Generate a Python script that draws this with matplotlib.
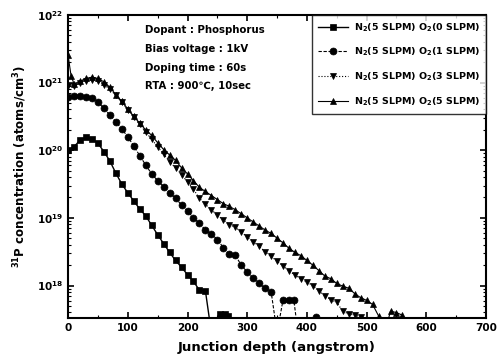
import numpy as np
import matplotlib
matplotlib.use("Agg")
import matplotlib.pyplot as plt
from matplotlib.ticker import LogLocator, MultipleLocator, NullFormatter

plt.rcParams['font.family'] = ['DejaVu Sans']
plt.rcParams['font.weight'] = 'bold'

# ---- data (log10 of concentration) ----
depth_o0 = [0, 10, 20, 30, 40, 50, 60, 70, 80, 90, 100, 110, 120, 130, 140, 150, 160,
            170, 180, 190, 200, 210, 220, 230, 240, 255, 262, 268, 280]
log_o0 = [20.00, 20.05, 20.15, 20.19, 20.17, 20.10, 19.98, 19.84, 19.66, 19.50, 19.37,
          19.25, 19.13, 19.03, 18.89, 18.75, 18.62, 18.49, 18.37, 18.27, 18.16, 18.06,
          17.93, 17.92, 17.30, 17.58, 17.58, 17.55, 17.30]

depth_o1 = [0, 10, 20, 30, 40, 50, 60, 70, 80, 90, 100, 110, 120, 130, 140, 150, 160,
            170, 180, 190, 200, 210, 220, 230, 240, 250, 260, 270, 280, 290, 300, 310,
            320, 330, 340, 350, 360, 370, 378, 385, 400, 415, 425]
log_o1 = [20.78, 20.80, 20.80, 20.79, 20.77, 20.71, 20.62, 20.52, 20.42, 20.31, 20.20,
          20.06, 19.92, 19.78, 19.65, 19.55, 19.46, 19.37, 19.29, 19.19, 19.10, 19.00,
          18.92, 18.82, 18.76, 18.68, 18.56, 18.46, 18.45, 18.30, 18.20, 18.11, 18.03,
          17.96, 17.91, 17.30, 17.79, 17.79, 17.79, 17.30, 17.30, 17.54, 17.30]

depth_o3 = [0, 10, 20, 30, 40, 50, 60, 70, 80, 90, 100, 110, 120, 130, 140, 150, 160,
            170, 180, 190, 200, 210, 220, 230, 240, 250, 260, 270, 280, 290, 300, 310,
            320, 330, 340, 350, 360, 370, 380, 390, 400, 410, 420, 430, 440, 450, 460,
            470, 480, 490, 500]
log_o3 = [20.95, 20.95, 21.00, 21.03, 21.04, 21.02, 20.97, 20.90, 20.81, 20.71, 20.60,
          20.49, 20.38, 20.27, 20.16, 20.05, 19.94, 19.83, 19.74, 19.64, 19.53, 19.42,
          19.29, 19.20, 19.12, 19.04, 18.97, 18.90, 18.86, 18.79, 18.72, 18.65, 18.58,
          18.50, 18.43, 18.36, 18.29, 18.22, 18.15, 18.10, 18.05, 18.00, 17.92, 17.85,
          17.79, 17.75, 17.62, 17.58, 17.56, 17.54, 17.30]

depth_o5 = [0, 5, 10, 20, 30, 40, 50, 60, 70, 80, 90, 100, 110, 120, 130, 140, 150,
            160, 170, 180, 190, 200, 210, 220, 230, 240, 250, 260, 270, 280, 290, 300,
            310, 320, 330, 340, 350, 360, 370, 380, 390, 400, 410, 420, 430, 440, 450,
            460, 470, 480, 490, 500, 510, 520, 530, 540, 550, 560, 570]
log_o5 = [21.40, 21.10, 20.98, 21.02, 21.06, 21.08, 21.06, 21.01, 20.93, 20.82, 20.72,
          20.61, 20.50, 20.40, 20.30, 20.22, 20.11, 20.01, 19.93, 19.85, 19.74, 19.65,
          19.55, 19.45, 19.39, 19.33, 19.27, 19.21, 19.17, 19.12, 19.06, 19.00, 18.94,
          18.88, 18.82, 18.77, 18.70, 18.63, 18.55, 18.49, 18.44, 18.37, 18.30, 18.22,
          18.14, 18.10, 18.03, 17.99, 17.96, 17.88, 17.82, 17.78, 17.72, 17.55, 17.30,
          17.62, 17.60, 17.56, 17.30]

labels = ["N$_2$(5 SLPM) O$_2$(0 SLPM)", "N$_2$(5 SLPM) O$_2$(1 SLPM)",
          "N$_2$(5 SLPM) O$_2$(3 SLPM)", "N$_2$(5 SLPM) O$_2$(5 SLPM)"]
info_lines = ["Dopant : Phosphorus", "Bias voltage : 1kV",
              "Doping time : 60s", "RTA : 900\u2103, 10sec"]
x_ticks = [0, 100, 200, 300, 400, 500, 600, 700]

fig = plt.figure(figsize=(4.97, 3.63), dpi=100)
ax = fig.add_axes([0.137, 0.124, 0.841, 0.835])

series = [
    (depth_o0, log_o0, 's', '-', 1.0),
    (depth_o1, log_o1, 'o', (0, (3, 1.5)), 0.8),
    (depth_o3, log_o3, 'v', ':', 0.8),
    (depth_o5, log_o5, '^', '-', 0.8),
]
for (d, lg, m, ls, lw), lab in zip(series, labels):
    ax.plot(d, np.power(10.0, lg), marker=m, linestyle=ls, color='black',
            lw=lw, markersize=5, markeredgewidth=0.5, label=lab)

ax.set_yscale('log')
ax.set_xlim(0, 700)
ax.set_ylim(10**17.52, 1e22)
ax.set_xticks(x_ticks)
ax.xaxis.set_minor_locator(MultipleLocator(50))
ax.yaxis.set_major_locator(LogLocator(base=10, numticks=10))
ax.yaxis.set_minor_locator(LogLocator(base=10, subs=np.arange(2, 10), numticks=20))
ax.yaxis.set_minor_formatter(NullFormatter())
ax.tick_params(which='both', direction='in', top=True, right=True, labelsize=7.5)
ax.tick_params(which='major', length=4, width=1.2)
ax.tick_params(which='minor', length=2.5, width=0.8)
for lbl in ax.get_xticklabels() + ax.get_yticklabels():
    lbl.set_fontweight('bold')
for s in ax.spines.values():
    s.set_linewidth(1.5)

ax.set_xlabel("Junction depth (angstrom)", fontsize=9.5, fontweight='bold', labelpad=6)
ax.set_ylabel("$^{31}$P concentration (atoms/cm$^3$)", fontsize=8.5,
              fontweight='bold', labelpad=6)

for i, t in enumerate(info_lines):
    ax.text(0.185, 0.95 - i * 0.062, t, transform=ax.transAxes, fontsize=7.3,
            fontweight='bold', va='center', ha='left')

leg = ax.legend(loc='upper right', frameon=True, fancybox=False,
                edgecolor='black', borderaxespad=0.0, handlelength=3.2,
                labelspacing=1.3, borderpad=0.65, handletextpad=0.6,
                prop={'weight': 'bold', 'size': 6.8})
leg.get_frame().set_linewidth(1.0)

fig.savefig("out.png", dpi=100, facecolor='white')
